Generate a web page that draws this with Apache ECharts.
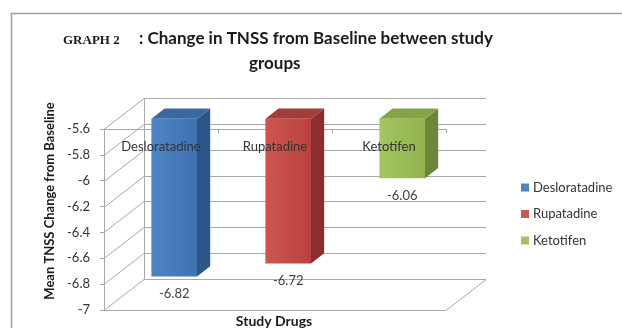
<!DOCTYPE html>
<html>
<head>
<meta charset="utf-8">
<script src="https://cdn.jsdelivr.net/npm/echarts@6/dist/echarts.min.js"></script>
<style>
  html, body { margin: 0; padding: 0; background: #ffffff; }
  #chart { width: 622px; height: 328px; }
</style>
</head>
<body>
<div id="chart"></div>
<script>
// Study groups and their mean change in TNSS from baseline
const drugs = ['Desloratadine', 'Rupatadine', 'Ketotifen'];
const meanChange = [-6.82, -6.72, -6.06];
// Value-axis ticks (bottom to top)
const valueTicks = [-7, -6.8, -6.6, -6.4, -6.2, -6, -5.8, -5.6];

// Face colours for each bar: front, side, top
const barPalette = [
  { front: ['#4f84c4', '#3f72b0'], side: '#2d5689', top: '#3b68a3' },
  { front: ['#cd5652', '#b9423f'], side: '#8a2f2d', top: '#a33d3a' },
  { front: ['#a4c462', '#93b250'], side: '#6c873a', top: '#85a347' }
];

// Pseudo-3D depth of the plot box (pixels) and where bars sit inside it
const DEPTH_X = 40, DEPTH_Y = -31;
const BAR_FRONT = 0.33, BAR_BACK = 0.66;
const LINE_COLOR = '#a9a9a9';
const FONT = 'Lato, "Open Sans", sans-serif';

const yMin = valueTicks[0];
const yMax = valueTicks[valueTicks.length - 1];

function seg(x1, y1, x2, y2) {
  return { type: 'line', shape: { x1, y1, x2, y2 }, style: { stroke: LINE_COLOR, lineWidth: 1 } };
}

// Back wall, side wall and floor of the 3-D plot box
function renderFrame(params, api) {
  const cs = params.coordSys;
  const x0 = cs.x, x1 = cs.x + cs.width;
  const children = [];
  valueTicks.forEach(function (v) {
    const y = Math.round(api.coord([0, v])[1]) + 0.5;
    children.push(seg(x0 + DEPTH_X, y + DEPTH_Y, x1 + DEPTH_X, y + DEPTH_Y));
    children.push(seg(x0, y, x0 + DEPTH_X, y + DEPTH_Y));
  });
  const yTop = Math.round(api.coord([0, yMax])[1]) + 0.5;
  const yBot = Math.round(api.coord([0, yMin])[1]) + 0.5;
  children.push(seg(x0 + DEPTH_X + 0.5, yTop + DEPTH_Y, x0 + DEPTH_X + 0.5, yBot + DEPTH_Y));
  children.push(seg(x0, yBot, x1, yBot));
  children.push(seg(x1, yBot, x1 + DEPTH_X, yBot + DEPTH_Y));
  return { type: 'group', children: children };
}

// One 3-D column hanging from the top of the value axis down to its value
function renderBar(params, api) {
  const pal = barPalette[params.seriesIndex - 1];
  const cat = api.value(0), val = api.value(1);
  const pt = api.coord([cat, val]);
  const yBase = api.coord([cat, yMax])[1];
  const w = api.size([1, 0])[0] * 0.4;
  const fx = BAR_FRONT * DEPTH_X, fy = BAR_FRONT * DEPTH_Y;
  const dx = (BAR_BACK - BAR_FRONT) * DEPTH_X, dy = (BAR_BACK - BAR_FRONT) * DEPTH_Y;
  const cx = pt[0] + fx;
  const left = cx - w / 2, right = cx + w / 2;
  const top = yBase + fy, bottom = pt[1] + fy;
  return {
    type: 'group',
    children: [
      { type: 'polygon',
        shape: { points: [[right, top], [right + dx, top + dy], [right + dx, bottom + dy], [right, bottom]] },
        style: { fill: pal.side } },
      { type: 'polygon',
        shape: { points: [[left, top], [left + dx, top + dy], [right + dx, top + dy], [right, top]] },
        style: { fill: pal.top } },
      { type: 'rect',
        shape: { x: left, y: top, width: w, height: bottom - top },
        style: { fill: new echarts.graphic.LinearGradient(0, 0, 1, 0, [
          { offset: 0, color: pal.front[0] }, { offset: 1, color: pal.front[1] }]) } },
      { type: 'text', x: cx, y: pt[1] + 7,
        style: { text: val.toFixed(2), fill: '#404040', font: '13px ' + FONT,
                 align: 'center', verticalAlign: 'middle' } }
    ]
  };
}

const chart = echarts.init(document.getElementById('chart'), null, { renderer: 'canvas' });

const series = [{
  type: 'custom',
  name: 'frame',
  renderItem: renderFrame,
  data: [[0, yMin]],
  silent: true,
  z: 1
}].concat(drugs.map(function (name, i) {
  return {
    type: 'custom',
    name: name,
    renderItem: renderBar,
    data: [[i, meanChange[i]]],
    itemStyle: { color: barPalette[i].front[0] },
    encode: { x: 0, y: 1 },
    z: 3
  };
}));

chart.setOption({
  animation: false,
  backgroundColor: '#ffffff',
  title: [
    { text: 'GRAPH 2', left: 58, top: 29,
      textStyle: { fontFamily: '"Liberation Serif", "DejaVu Serif", serif', fontWeight: 'bold', fontSize: 13, color: '#1a1a1a' } },
    { text: ': Change in TNSS from Baseline between study', left: 134, top: 25,
      textStyle: { fontFamily: FONT, fontWeight: 'bold', fontSize: 17, color: '#1a1a1a' } },
    { text: 'groups', left: 244, top: 50,
      textStyle: { fontFamily: FONT, fontWeight: 'bold', fontSize: 17, color: '#1a1a1a' } }
  ],
  legend: {
    data: drugs,
    orient: 'vertical',
    left: 521, top: 181,
    padding: 0,
    itemWidth: 8, itemHeight: 8, itemGap: 13.5,
    icon: 'rect',
    textStyle: { fontFamily: FONT, fontSize: 13, color: '#333333', padding: [0, 0, 0, -1] }
  },
  grid: { left: 104, top: 129, width: 342, height: 181, containLabel: false },
  xAxis: [
    { type: 'category', data: drugs, position: 'top', gridIndex: 0,
      axisLine: { show: true, lineStyle: { color: LINE_COLOR } },
      axisTick: { show: true, inside: true, length: 4, lineStyle: { color: LINE_COLOR } },
      axisLabel: { show: false }, splitLine: { show: false } },
    { type: 'category', data: drugs, position: 'top', gridIndex: 0, z: 10,
      axisLine: { show: false }, axisTick: { show: false },
      axisLabel: { show: true, inside: true, margin: 11, color: '#333333', fontFamily: FONT, fontSize: 13 },
      splitLine: { show: false } }
  ],
  yAxis: {
    type: 'value', min: yMin, max: yMax, interval: 0.2,
    axisLine: { show: true, lineStyle: { color: LINE_COLOR } },
    axisTick: { show: true, length: 4, lineStyle: { color: LINE_COLOR } },
    axisLabel: { margin: 14, color: '#333333', fontFamily: FONT, fontSize: 13,
                 formatter: function (v) { return String(Math.round(v * 10) / 10); } },
    splitLine: { show: false }
  },
  graphic: [
    { type: 'rect', silent: true, z: -1,
      shape: { x: 11.5, y: 13.5, width: 700, height: 400 },
      style: { fill: null, stroke: '#a0a0a0', lineWidth: 1.5 } },
    { type: 'text', x: 50, y: 201, rotation: Math.PI / 2,
      style: { text: 'Mean TNSS Change from Baseline', font: 'bold 13px ' + FONT, fill: '#1a1a1a',
               align: 'center', verticalAlign: 'middle' } },
    { type: 'text', x: 274, y: 321,
      style: { text: 'Study Drugs', font: 'bold 14px ' + FONT, fill: '#1a1a1a',
               align: 'center', verticalAlign: 'middle' } }
  ],
  series: series
});
</script>
</body>
</html>
